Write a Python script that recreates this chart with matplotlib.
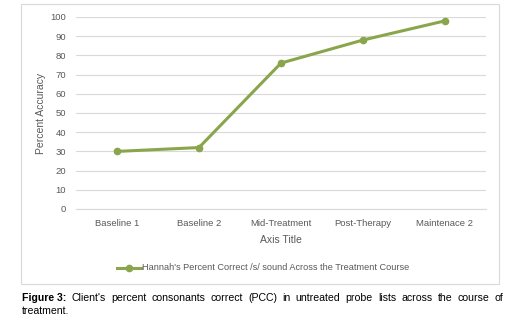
import matplotlib.pyplot as plt
from matplotlib.patches import Rectangle
from matplotlib.lines import Line2D

plt.rcParams['font.family'] = ['Liberation Sans', 'DejaVu Sans']

stages = ['Baseline 1', 'Baseline 2', 'Mid-Treatment', 'Post-Therapy', 'Maintenace 2']
accuracy = [30, 32, 76, 88, 98]
yticks = list(range(0, 101, 10))
series_name = "Hannah's Percent Correct /s/ sound Across the Treatment Course"
caption_bold = 'Figure 3:'
caption_rest = ("Client's percent consonants correct (PCC) in untreated probe lists "
                "across the course of")
caption_line2 = 'treatment.'

green = '#8aa54c'
grey = '#595959'
W, H = 530, 329

fig = plt.figure(figsize=(W / 100, H / 100), dpi=100)

# chart frame
fig.patches.append(Rectangle((21 / W, 1 - 284 / H), 478 / W, 280 / H,
                             transform=fig.transFigure, fill=False,
                             edgecolor='#d9d9d9', linewidth=0.8))

ax = fig.add_axes([76 / W, 1 - 209 / H, 410 / W, 192 / H])
x = list(range(len(stages)))
ax.plot(x, accuracy, color=green, linewidth=2.2, marker='o', markersize=4.5)
ax.set_xlim(-0.5, len(stages) - 0.5)
ax.set_ylim(0, 100)
ax.set_yticks(yticks)
ax.set_xticks(x)
ax.set_xticklabels(stages)
ax.grid(axis='y', color='#d9d9d9', linewidth=0.8)
ax.set_axisbelow(True)
for s in ['top', 'right', 'left']:
    ax.spines[s].set_visible(False)
ax.spines['bottom'].set_color('#d9d9d9')
ax.tick_params(length=0, labelsize=6.8, colors=grey, pad=7)
ax.set_ylabel('Percent Accuracy', fontsize=7.5, color=grey, labelpad=3)
ax.set_xlabel('Axis Title', fontsize=7.5, color=grey, labelpad=5)

# legend
ly = 1 - 268 / H
fig.lines.append(Line2D([117 / W, 141 / W], [ly, ly], transform=fig.transFigure,
                        color=green, linewidth=2.2))
fig.lines.append(Line2D([129 / W], [ly], transform=fig.transFigure,
                        color=green, marker='o', markersize=4.5, linestyle='none'))
fig.text(142 / W, ly, series_name, fontsize=6.6, color=grey, va='center', ha='left')

# caption, first line justified
fig.canvas.draw()
r = fig.canvas.get_renderer()
words = [(caption_bold, 'bold')] + [(w, 'normal') for w in caption_rest.split()]
objs = [fig.text(0, 1 - 298 / H, w, fontsize=7.6, fontweight=wt, va='center', ha='left')
        for w, wt in words]
widths = [o.get_window_extent(r).width for o in objs]
left, right = 22, 503
gap = (right - left - sum(widths)) / (len(objs) - 1)
pos = left
for o, wd in zip(objs, widths):
    o.set_x(pos / W)
    pos += wd + gap
fig.text(left / W, 1 - 311 / H, caption_line2, fontsize=7.6, va='center', ha='left')

fig.savefig('out.png', dpi=100)
